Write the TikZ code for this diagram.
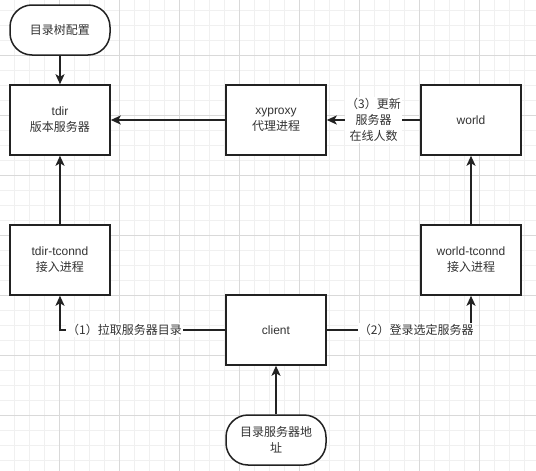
\documentclass[tikz,border=0pt]{standalone}
\usepackage{fontspec}
\setmainfont{Liberation Sans}
\newfontfamily\cjk{Noto Sans CJK SC}
\usetikzlibrary{arrows.meta}
\definecolor{minorgrid}{HTML}{F0F0F0}
\definecolor{majorgrid}{HTML}{D9D9D9}
\definecolor{ink}{HTML}{222222}
\definecolor{txt}{HTML}{333333}
\tikzset{
  box/.style={draw=ink, line width=1.5pt, fill=white, minimum width=100pt, minimum height=70pt,
    align=center, text=txt, font=\fontsize{12}{16}\selectfont, inner sep=0pt},
  term/.style={box, minimum height=50pt, rounded corners=22pt},
  arr/.style={draw=ink, line width=1.5pt, -{Stealth[length=10pt,width=9pt,inset=2.5pt]}},
  lbl/.style={fill=white, text=txt, inner sep=1pt, align=center, font=\fontsize{12}{16}\selectfont}
}
\begin{document}
\begin{tikzpicture}[x=1pt,y=-1pt]
\useasboundingbox (0,0) rectangle (536,471);
\fill[white] (0,0) rectangle (536,471);
\foreach \gx in {14,29,...,536} \draw[minorgrid, line width=0.6pt] (\gx,0) -- (\gx,471);
\foreach \gy in {10,25,...,471} \draw[minorgrid, line width=0.6pt] (0,\gy) -- (536,\gy);
\foreach \gx in {59,119,...,536} \draw[majorgrid, line width=0.7pt] (\gx,0) -- (\gx,471);
\foreach \gy in {55,115,...,471} \draw[majorgrid, line width=0.7pt] (0,\gy) -- (536,\gy);

\node[term] (cfg) at (60,30) {\cjk 目录树配置};
\node[box] (tdir) at (60,120) {tdir\\\cjk 版本服务器};
\node[box] (xy) at (276,120) {xyproxy\\\cjk 代理进程};
\node[box] (world) at (471,120) {world};
\node[box] (tt) at (60,260) {tdir-tconnd\\\cjk 接入进程};
\node[box] (wt) at (471,260) {world-tconnd\\\cjk 接入进程};
\node[box] (client) at (276,330) {client};
\node[term] (addr) at (276,440) {\cjk 目录服务器地\\\cjk 址};

\draw[arr] (cfg) -- (tdir);
\draw[arr] (xy) -- (tdir);
\draw[arr] (world) -- node[lbl] {\cjk （3）更新\\\cjk 服务器\\\cjk 在线人数} (xy);
\draw[arr] (tt) -- (tdir);
\draw[arr] (wt) -- (world);
\draw[arr] (client) -| node[lbl, pos=0.305] {\cjk （1）拉取服务器目录} (tt);
\draw[arr] (client) -| node[lbl, pos=0.31] {\cjk （2）登录选定服务器} (wt);
\draw[arr] (addr) -- (client);
\end{tikzpicture}
\end{document}
